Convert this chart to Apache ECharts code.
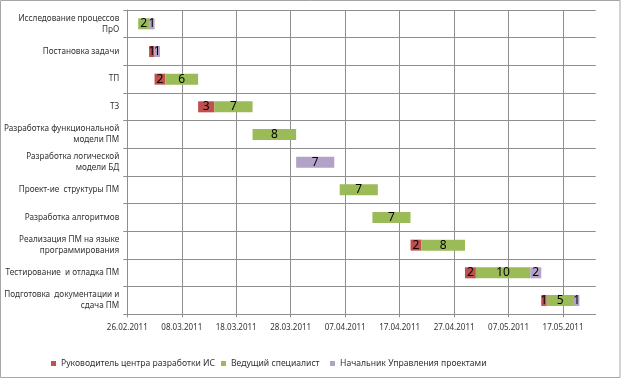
<!DOCTYPE html>
<html><head><meta charset="utf-8">
<script src="https://cdn.jsdelivr.net/npm/echarts@6/dist/echarts.min.js"></script>
<style>html,body{margin:0;padding:0;background:#fff}#c{width:623px;height:379px}</style>
</head><body><div id="c"></div>
<script>
const categories = [
  'Исследование процессов\nПрО',
  'Постановка задачи',
  'ТП',
  'ТЗ',
  'Разработка функциональной\nмодели ПМ',
  'Разработка логической\nмодели БД',
  'Проект-ие  структуры ПМ',
  'Разработка алгоритмов',
  'Реализация ПМ на языке\nпрограммирования',
  'Тестирование  и отладка ПМ',
  'Подготовка  документации и\nсдача ПМ'
];
const startDates = ['28.02.2011','02.03.2011','03.03.2011','11.03.2011','21.03.2011','29.03.2011','06.04.2011','12.04.2011','19.04.2011','29.04.2011','13.05.2011'];
const headDays = [0,1,2,3,0,0,0,0,2,2,1];       // Руководитель центра разработки ИС
const leadDays = [2,0,6,7,8,0,7,7,8,10,5];      // Ведущий специалист
const chiefDays = [1,1,0,0,0,7,0,0,0,2,1];      // Начальник Управления проектами
const seriesNames = ['Руководитель центра разработки ИС','Ведущий специалист','Начальник Управления проектами'];
const axisStart = '26.02.2011';
const axisEnd = '23.05.2011';
const tickStepDays = 10;

function parseD(s){const p=s.split('.');return Date.UTC(+p[2],+p[1]-1,+p[0]);}
const base = parseD(axisStart);
const dayOf = s => Math.round((parseD(s)-base)/86400000);
function fmt(d){const t=new Date(base+d*86400000);const p=n=>String(n).padStart(2,'0');return p(t.getUTCDate())+'.'+p(t.getUTCMonth()+1)+'.'+t.getUTCFullYear();}
const offsets = startDates.map(dayOf);

const colors = ['#C0504D','#9BBB59','#B3A2C7'];
const font = 'Noto Sans';
const lbl = {show:true,position:'inside',color:'#000',fontFamily:font,fontSize:12,formatter:p=>p.value?String(p.value):''};
const mk = (name,data,color)=>({name,type:'bar',stack:'g',data,barWidth:11,itemStyle:{color},label:lbl,emphasis:{disabled:true}});

const chart = echarts.init(document.getElementById('c'),null,{renderer:'canvas'});
chart.setOption({
  animation:false,
  backgroundColor:'#fff',
  grid:{left:127.3,right:27.3,top:10,bottom:64.7,containLabel:false},
  xAxis:{type:'value',min:0,max:dayOf(axisEnd),interval:tickStepDays,
    axisLine:{show:true,lineStyle:{color:'#8e8e8e'}},
    axisTick:{show:true,length:3,lineStyle:{color:'#8e8e8e'}},
    axisLabel:{formatter:v=>fmt(v),fontFamily:font,fontSize:8,color:'#333',margin:9,showMaxLabel:false},
    splitLine:{show:true,showMaxLine:false,lineStyle:{color:'#8e8e8e',width:1}}},
  yAxis:{type:'category',data:categories,inverse:true,boundaryGap:true,
    axisLine:{show:true,lineStyle:{color:'#8e8e8e'}},
    axisTick:{show:true,length:4,lineStyle:{color:'#8e8e8e'}},
    axisLabel:{fontFamily:font,fontSize:8.2,color:'#333',margin:8,lineHeight:11,align:'right'},
    splitLine:{show:true,lineStyle:{color:'#8e8e8e',width:1}}},
  legend:[
    {data:[seriesNames[0]],left:51,top:359},
    {data:[seriesNames[1]],left:221,top:359},
    {data:[seriesNames[2]],left:330,top:359}
  ].map(l=>Object.assign(l,{icon:'rect',itemWidth:5,itemHeight:5,itemGap:3,padding:0,selectedMode:false,
    textStyle:{fontFamily:font,fontSize:8.6,color:'#333'}})),
  graphic:[{type:'rect',shape:{x:0.5,y:0.5,width:619.5,height:377},style:{fill:null,stroke:'#a6a6a6',lineWidth:1},silent:true}],
  series:[
    {name:'offset',type:'bar',stack:'g',data:offsets,barWidth:11,itemStyle:{color:'transparent'},silent:true,label:{show:false},emphasis:{disabled:true}},
    mk(seriesNames[0],headDays,colors[0]),
    mk(seriesNames[1],leadDays,colors[1]),
    mk(seriesNames[2],chiefDays,colors[2])
  ]
});
</script></body></html>
